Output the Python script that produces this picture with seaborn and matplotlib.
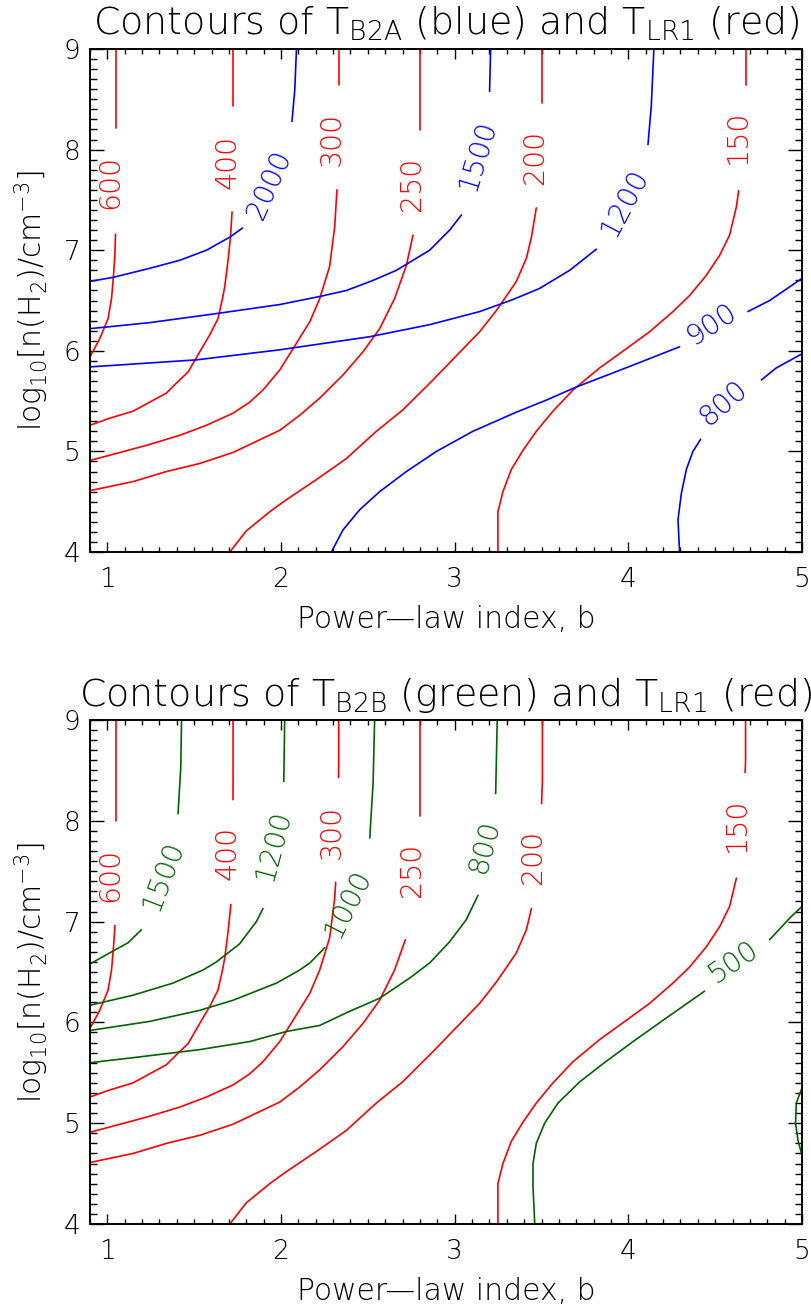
import numpy as np
import pandas as pd
import matplotlib
matplotlib.use("Agg")
import matplotlib.pyplot as plt
from matplotlib.ticker import MultipleLocator, FormatStrFormatter
import seaborn as sns

# ---------------- data ----------------
# T_LR1 contours (red) - identical in both panels
RED_LEVELS = ["600", "400", "300", "250", "200", "150"]
RED_600_X = [0.90, 0.956, 1.004, 1.024, 1.035, 1.043, 1.047, 1.049, 1.049, 1.049]
RED_600_Y = [5.94, 6.12, 6.32, 6.52, 6.74, 6.94, 7.16, 7.60, 8.20, 9.00]
RED_400_X = [0.90, 1.014, 1.148, 1.244, 1.340, 1.398, 1.465, 1.532, 1.590, 1.637, 1.663, 1.676, 1.695, 1.709, 1.718, 1.722, 1.724, 1.724]
RED_400_Y = [5.26, 5.33, 5.40, 5.49, 5.58, 5.68, 5.79, 5.99, 6.16, 6.32, 6.52, 6.64, 6.90, 7.13, 7.38, 7.80, 8.40, 9.00]
RED_300_X = [0.90, 1.052, 1.225, 1.417, 1.571, 1.724, 1.820, 1.896, 1.993, 2.069, 2.166, 2.223, 2.280, 2.309, 2.322, 2.330, 2.332, 2.332]
RED_300_Y = [4.91, 4.98, 5.06, 5.16, 5.26, 5.38, 5.49, 5.61, 5.81, 6.02, 6.29, 6.52, 6.84, 7.23, 7.60, 8.10, 8.60, 9.00]
RED_250_X = [0.90, 1.148, 1.340, 1.532, 1.724, 1.858, 1.993, 2.108, 2.223, 2.357, 2.472, 2.568, 2.654, 2.722, 2.760, 2.785, 2.800, 2.800]
RED_250_Y = [4.61, 4.70, 4.80, 4.88, 4.99, 5.10, 5.21, 5.36, 5.53, 5.76, 5.99, 6.22, 6.52, 6.85, 7.15, 7.50, 8.00, 9.00]
RED_200_X = [1.705, 1.800, 1.935, 2.031, 2.204, 2.377, 2.549, 2.700, 2.875, 3.144, 3.240, 3.300, 3.355, 3.413, 3.442, 3.470, 3.495, 3.505, 3.505]
RED_200_Y = [4.00, 4.21, 4.40, 4.52, 4.72, 4.93, 5.20, 5.41, 5.71, 6.19, 6.40, 6.55, 6.69, 6.92, 7.13, 7.42, 7.90, 8.40, 9.00]
RED_150_X = [3.249, 3.249, 3.278, 3.326, 3.393, 3.470, 3.566, 3.681, 3.835, 3.988, 4.123, 4.257, 4.353, 4.449, 4.526, 4.583, 4.622, 4.640, 4.665, 4.675, 4.675]
RED_150_Y = [4.00, 4.40, 4.60, 4.82, 5.01, 5.20, 5.40, 5.61, 5.83, 6.02, 6.19, 6.39, 6.55, 6.75, 6.95, 7.15, 7.43, 7.65, 8.10, 8.60, 9.00]

TOP_RED_LAB_X = [1.014, 1.690, 2.294, 2.756, 3.461, 4.631]
TOP_RED_LAB_Y = [7.68, 7.88, 8.11, 7.66, 7.93, 8.13]
TOP_RED_GAP_LO = [7.16, 7.38, 7.60, 7.15, 7.42, 7.59]
TOP_RED_GAP_HI = [8.21, 8.43, 8.64, 8.19, 8.46, 8.64]
BOT_RED_LAB_X = [1.014, 1.691, 2.290, 2.756, 3.451, 4.626]
BOT_RED_LAB_Y = [7.46, 7.68, 7.89, 7.51, 7.64, 7.96]
BOT_RED_GAP_LO = [6.96, 7.17, 7.39, 6.82, 7.13, 7.43]
BOT_RED_GAP_HI = [8.00, 8.21, 8.43, 8.05, 8.17, 8.48]

# T_B2A contours (blue) - top panel
BLUE_LEVELS = ["2000", "1500", "1200", "900", "800"]
BLUE_2000_X = [0.90, 1.033, 1.244, 1.417, 1.571, 1.705, 1.778, 1.900, 2.000, 2.063, 2.079, 2.089]
BLUE_2000_Y = [6.69, 6.73, 6.82, 6.90, 7.00, 7.13, 7.22, 7.55, 7.95, 8.28, 8.59, 9.00]
BLUE_1500_X = [0.90, 1.244, 1.628, 1.993, 2.223, 2.377, 2.530, 2.664, 2.856, 2.971, 3.039, 3.120, 3.180, 3.201, 3.207]
BLUE_1500_Y = [6.22, 6.28, 6.37, 6.46, 6.54, 6.60, 6.70, 6.80, 7.00, 7.20, 7.35, 7.75, 8.20, 8.58, 9.00]
BLUE_1200_X = [0.90, 1.513, 1.993, 2.511, 2.856, 3.144, 3.336, 3.489, 3.662, 3.816, 3.950, 4.060, 4.113, 4.132, 4.147]
BLUE_1200_Y = [5.84, 5.91, 6.01, 6.14, 6.26, 6.39, 6.51, 6.62, 6.80, 7.01, 7.40, 7.80, 8.05, 8.43, 9.00]
BLUE_900_X = [2.290, 2.357, 2.453, 2.568, 2.722, 2.895, 3.105, 3.355, 3.528, 3.700, 3.911, 4.104, 4.295, 4.500, 4.700, 4.814, 5.000]
BLUE_900_Y = [4.00, 4.22, 4.42, 4.60, 4.80, 5.00, 5.20, 5.39, 5.51, 5.64, 5.78, 5.91, 6.04, 6.22, 6.40, 6.50, 6.72]
BLUE_800_X = [4.295, 4.286, 4.305, 4.334, 4.372, 4.416, 4.600, 4.766, 4.852, 5.000]
BLUE_800_Y = [4.00, 4.32, 4.58, 4.82, 5.00, 5.12, 5.45, 5.71, 5.83, 5.97]
BLUE_LAB_X = [1.935, 3.134, 3.979, 4.478, 4.549]
BLUE_LAB_Y = [7.65, 7.95, 7.48, 6.26, 5.48]
BLUE_LAB_ROT = [66, 73, 62, 33, 41]
BLUE_GAP_LO = [7.22, 7.35, 7.01, 6.04, 5.12]
BLUE_GAP_HI = [8.28, 8.58, 8.05, 6.39, 5.71]

# T_B2B contours (green) - bottom panel
GREEN_LEVELS = ["1500", "1200", "1000", "800", "500"]
GREEN_1500_X = [0.90, 1.014, 1.119, 1.196, 1.300, 1.380, 1.407, 1.423, 1.427]
GREEN_1500_Y = [6.58, 6.69, 6.79, 6.92, 7.30, 7.70, 8.07, 8.54, 9.00]
GREEN_1200_X = [0.90, 1.148, 1.378, 1.551, 1.628, 1.762, 1.858, 1.896, 1.960, 2.000, 2.016, 2.021]
GREEN_1200_Y = [6.17, 6.27, 6.39, 6.52, 6.60, 6.78, 7.00, 7.13, 7.50, 8.00, 8.39, 9.00]
GREEN_1000_X = [0.90, 1.244, 1.532, 1.724, 1.974, 2.108, 2.166, 2.252, 2.350, 2.450, 2.511, 2.530, 2.539]
GREEN_1000_Y = [5.92, 6.01, 6.12, 6.22, 6.39, 6.52, 6.59, 6.74, 7.10, 7.50, 7.83, 8.37, 9.00]
GREEN_800_X = [0.90, 1.148, 1.532, 1.820, 2.031, 2.223, 2.395, 2.568, 2.741, 2.856, 2.971, 3.067, 3.134, 3.200, 3.236, 3.245]
GREEN_800_Y = [5.60, 5.65, 5.73, 5.81, 5.91, 5.97, 6.11, 6.24, 6.44, 6.59, 6.80, 7.02, 7.26, 7.70, 8.27, 9.00]
GREEN_500_X = [3.461, 3.451, 3.451, 3.470, 3.518, 3.595, 3.720, 3.854, 4.027, 4.199, 4.439, 4.600, 4.813, 4.938, 5.000]
GREEN_500_Y = [4.00, 4.37, 4.60, 4.80, 5.00, 5.20, 5.41, 5.59, 5.81, 6.02, 6.31, 6.55, 6.82, 7.05, 7.15]
GREEN_ARC_X = [5.000, 4.967, 4.963, 4.977, 5.000]
GREEN_ARC_Y = [5.35, 5.20, 5.00, 4.83, 4.68]
GREEN_LAB_X = [1.321, 1.958, 2.386, 3.173, 4.602]
GREEN_LAB_Y = [7.46, 7.76, 7.18, 7.74, 6.60]
GREEN_LAB_ROT = [69, 75, 63, 75, 34]
GREEN_GAP_LO = [6.92, 7.13, 6.74, 7.26, 6.31]
GREEN_GAP_HI = [8.07, 8.39, 7.83, 8.27, 6.82]

X_TICKS = [1, 2, 3, 4, 5]
Y_TICKS = [4, 5, 6, 7, 8, 9]
TITLE_TOP = r"Contours of T$_{B2A}$ (blue) and T$_{LR1}$ (red)"
TITLE_BOT = r"Contours of T$_{B2B}$ (green) and T$_{LR1}$ (red)"
X_LABEL = "Power\u2014law index, b"
Y_LABEL = r"log$_{10}$[n(H$_2$)/cm$^{-3}$]"

RED_PATHS = [(RED_600_X, RED_600_Y), (RED_400_X, RED_400_Y), (RED_300_X, RED_300_Y),
             (RED_250_X, RED_250_Y), (RED_200_X, RED_200_Y), (RED_150_X, RED_150_Y)]
BLUE_PATHS = [(BLUE_2000_X, BLUE_2000_Y), (BLUE_1500_X, BLUE_1500_Y), (BLUE_1200_X, BLUE_1200_Y),
              (BLUE_900_X, BLUE_900_Y), (BLUE_800_X, BLUE_800_Y)]
GREEN_PATHS = [(GREEN_1500_X, GREEN_1500_Y), (GREEN_1200_X, GREEN_1200_Y), (GREEN_1000_X, GREEN_1000_Y),
               (GREEN_800_X, GREEN_800_Y), (GREEN_500_X, GREEN_500_Y)]

RED = "#ff0000"
BLUE = "#0000ff"
GREEN = "#006400"

# ---------------- styling ----------------
sns.set_theme(style="ticks")
FW = 200
plt.rcParams["font.family"] = ["DejaVu Sans"]
plt.rcParams["font.weight"] = FW
plt.rcParams["mathtext.default"] = "regular"
plt.rcParams["text.color"] = "black"
plt.rcParams["axes.labelcolor"] = "black"
plt.rcParams["xtick.color"] = "black"
plt.rcParams["ytick.color"] = "black"
plt.rcParams["axes.titlecolor"] = "black"

LINE_W = 1.2
TICK_FS = 19
LAB_FS = 20.5


def split_at_gap(xs, ys, lo, hi):
    xs = np.asarray(xs, float)
    ys = np.asarray(ys, float)
    low = ys < lo
    up = ys > hi
    s1x = np.append(xs[low], np.interp(lo, ys, xs))
    s1y = np.append(ys[low], lo)
    s2x = np.insert(xs[up], 0, np.interp(hi, ys, xs))
    s2y = np.insert(ys[up], 0, hi)
    return [(s1x, s1y), (s2x, s2y)]


def build_frame(paths, los, his, extra=()):
    rows = []
    sid = 0
    for (xs, ys), lo, hi in zip(paths, los, his):
        for sx, sy in split_at_gap(xs, ys, lo, hi):
            for a, b in zip(sx, sy):
                rows.append((a, b, sid))
            sid += 1
    for xs, ys in extra:
        for a, b in zip(xs, ys):
            rows.append((a, b, sid))
        sid += 1
    return pd.DataFrame(rows, columns=["x", "y", "seg"])


def draw(ax, df, color):
    sns.lineplot(data=df, x="x", y="y", units="seg", estimator=None, sort=False,
                 color=color, linewidth=LINE_W, ax=ax, legend=False)


def labels(ax, xs, ys, texts, rots, color):
    for x, y, t, r in zip(xs, ys, texts, rots):
        ax.text(x, y, t, rotation=r, rotation_mode="anchor", ha="center", va="center",
                color=color, fontsize=LAB_FS, fontweight=FW)


def style(ax, title):
    ax.set_xlim(0.9, 5.0)
    ax.set_ylim(4.0, 9.0)
    ax.set_xticks(X_TICKS)
    ax.set_yticks(Y_TICKS)
    ax.xaxis.set_minor_locator(MultipleLocator(0.1))
    ax.yaxis.set_minor_locator(MultipleLocator(0.1))
    ax.xaxis.set_major_formatter(FormatStrFormatter("%d"))
    ax.yaxis.set_major_formatter(FormatStrFormatter("%d"))
    ax.tick_params(axis="both", which="both", direction="in", top=True, bottom=True,
                   left=True, right=True, colors="black", width=1.0)
    ax.tick_params(axis="x", which="major", length=7.2, pad=11, labelsize=TICK_FS)
    ax.tick_params(axis="x", which="minor", length=3.6)
    ax.tick_params(axis="y", which="major", length=10, pad=7, labelsize=TICK_FS)
    ax.tick_params(axis="y", which="minor", length=5)
    for lab in ax.get_xticklabels() + ax.get_yticklabels():
        lab.set_fontweight(FW)
    for s in ax.spines.values():
        s.set_visible(True)
        s.set_color("black")
        s.set_linewidth(1.4)
    ax.set_xlabel(X_LABEL, fontsize=21.5, labelpad=9, fontweight=FW)
    ax.set_ylabel(Y_LABEL, fontsize=21.5, labelpad=9, fontweight=FW)
    ax.set_title(title, fontsize=27.4, pad=10, fontweight=FW)


fig = plt.figure(figsize=(8.11, 13.13), dpi=100)
ax1 = fig.add_axes([90 / 811, 1 - 552 / 1313, 712 / 811, 503 / 1313])
ax2 = fig.add_axes([90 / 811, 1 - 1224 / 1313, 712 / 811, 504 / 1313])

# top panel
draw(ax1, build_frame(RED_PATHS, TOP_RED_GAP_LO, TOP_RED_GAP_HI), RED)
draw(ax1, build_frame(BLUE_PATHS, BLUE_GAP_LO, BLUE_GAP_HI), BLUE)
labels(ax1, TOP_RED_LAB_X, TOP_RED_LAB_Y, RED_LEVELS, [90] * 6, RED)
labels(ax1, BLUE_LAB_X, BLUE_LAB_Y, BLUE_LEVELS, BLUE_LAB_ROT, BLUE)
style(ax1, TITLE_TOP)

# bottom panel
draw(ax2, build_frame(RED_PATHS, BOT_RED_GAP_LO, BOT_RED_GAP_HI), RED)
draw(ax2, build_frame(GREEN_PATHS, GREEN_GAP_LO, GREEN_GAP_HI,
                      extra=[(GREEN_ARC_X, GREEN_ARC_Y)]), GREEN)
labels(ax2, BOT_RED_LAB_X, BOT_RED_LAB_Y, RED_LEVELS, [90] * 6, RED)
labels(ax2, GREEN_LAB_X, GREEN_LAB_Y, GREEN_LEVELS, GREEN_LAB_ROT, GREEN)
style(ax2, TITLE_BOT)

fig.savefig("out.png", dpi=100)
